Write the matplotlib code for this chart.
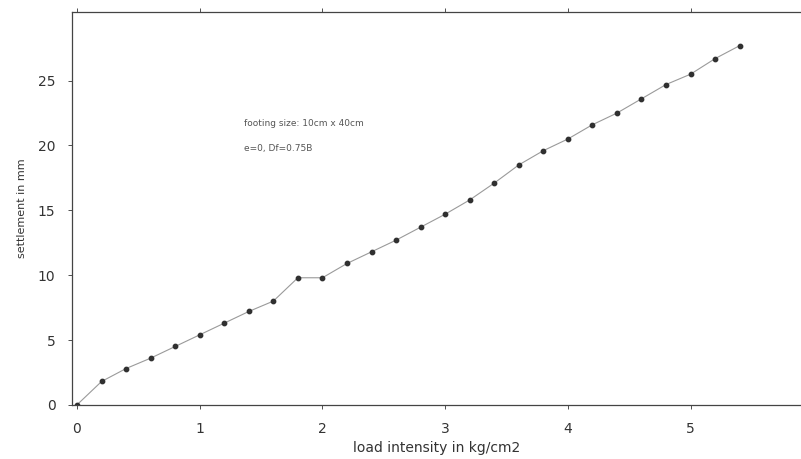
import numpy as np
import matplotlib.pyplot as plt

# ------------------------- data ------------------------------------
load = [0.0, 0.2, 0.4, 0.6, 0.8, 1.0, 1.2, 1.4, 1.6, 1.8, 2.0, 2.2, 2.4, 2.6,
        2.8, 3.0, 3.2, 3.4, 3.6, 3.8, 4.0, 4.2, 4.4, 4.6, 4.8, 5.0, 5.2, 5.4]
settlement = [0.0, 1.8, 2.8, 3.6, 4.5, 5.4, 6.3, 7.2, 8.0, 9.8, 9.8, 10.9, 11.8, 12.7,
              13.7, 14.7, 15.8, 17.1, 18.5, 19.6, 20.5, 21.6, 22.5, 23.6, 24.7, 25.5, 26.7, 27.7]
x_ticks = [0, 1, 2, 3, 4, 5]
y_ticks = [0, 5, 10, 15, 20, 25]

# ------------------------- figure ----------------------------------
fig = plt.figure(figsize=(8.01, 4.59), dpi=100)
ax = fig.add_axes([0.09, 0.118, 0.91, 0.856])

ax.plot(load, settlement, color='#9a9a9a', lw=0.8, zorder=1)
ax.scatter(load, settlement, s=10, color='#303030', zorder=2)

ax.set_xlim(-0.04, 5.9)
ax.set_ylim(0, 30.3)
ax.set_xticks(x_ticks)
ax.set_yticks(y_ticks)
ax.tick_params(axis='both', labelsize=10, colors='#333333', length=3, width=0.6, pad=9)
ax.tick_params(axis='x', top=True, direction='out')
ax.spines['right'].set_visible(False)
for s in ['left', 'bottom', 'top']:
    ax.spines[s].set_color('#444444')
    ax.spines[s].set_linewidth(0.9)

ax.set_xlabel('load intensity in kg/cm2', fontsize=10, color='#333333', labelpad=4)
ax.set_ylabel('settlement in mm', fontsize=8, color='#333333', labelpad=8)

ax.text(1.36, 21.5, 'footing size: 10cm x 40cm', fontsize=6.5, color='#555555')
ax.text(1.36, 19.6, 'e=0, Df=0.75B', fontsize=6.5, color='#555555')

fig.savefig('out.png', dpi=100)
